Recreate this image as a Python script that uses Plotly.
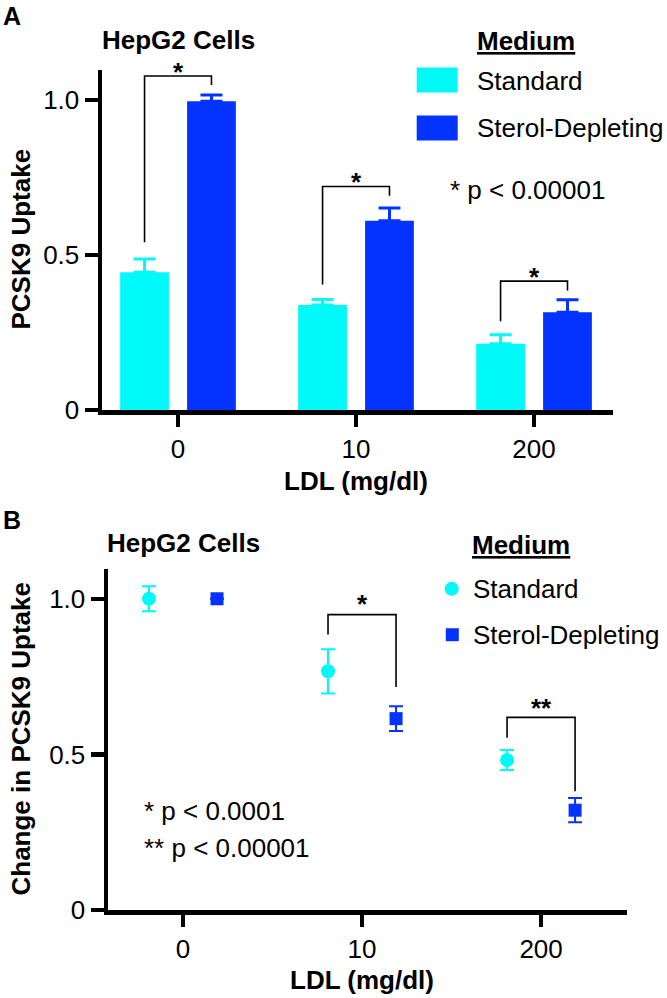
import plotly.graph_objects as go

W, H = 667, 998          # reference picture size
FIG_H = 1011             # rendered figure height (viewport compensation)
FONT = "Liberation Sans, Arial, Helvetica, sans-serif"
CYAN = "#00FAFA"
BLUE = "#0433FF"

# ---------------- data ----------------
ldl_labels = ["0", "10", "200"]

# Panel A: PCSK9 uptake (bars, mean + upper SEM)
uptake_standard = [0.445, 0.339, 0.214]
uptake_standard_err = [0.042, 0.018, 0.029]
uptake_sterol = [0.996, 0.611, 0.316]
uptake_sterol_err = [0.020, 0.041, 0.040]

# Panel B: change in PCSK9 uptake (points, mean +/- SEM)
change_standard = [1.00, 0.767, 0.482]
change_standard_err = [0.040, 0.071, 0.032]
change_sterol = [1.00, 0.615, 0.321]
change_sterol_err = [0.0, 0.040, 0.039]

# significance labels per LDL group
sig_A = ["*", "*", "*"]
sig_B = ["", "*", "**"]

idx = list(range(len(ldl_labels)))

# ---------------- helpers ----------------
def px(x):
    return x / W

def py(y):
    return 1 - y / H

OFF = 0.188      # half distance between paired bars (axis units)
BW = 0.274       # bar width (axis units)

fig = go.Figure()

# Panel A bars
fig.add_trace(go.Bar(
    x=idx, y=uptake_standard, width=BW, offset=-OFF - BW / 2,
    marker=dict(color=CYAN, line=dict(width=0)),
    error_y=dict(type="data", array=uptake_standard_err,
                 arrayminus=[0] * len(idx), symmetric=False,
                 color=CYAN, thickness=3, width=11),
    xaxis="x", yaxis="y", showlegend=False, name="Standard"))
fig.add_trace(go.Bar(
    x=idx, y=uptake_sterol, width=BW, offset=OFF - BW / 2,
    marker=dict(color=BLUE, line=dict(width=0)),
    error_y=dict(type="data", array=uptake_sterol_err,
                 arrayminus=[0] * len(idx), symmetric=False,
                 color=BLUE, thickness=3, width=11),
    xaxis="x", yaxis="y", showlegend=False, name="Sterol-Depleting"))

# Panel B points
OFFB = 0.19
fig.add_trace(go.Scatter(
    x=[i - OFFB for i in idx], y=change_standard, mode="markers",
    marker=dict(symbol="circle", size=14, color=CYAN),
    error_y=dict(type="data", array=change_standard_err, color=CYAN,
                 thickness=2, width=7),
    xaxis="x2", yaxis="y2", showlegend=False, cliponaxis=False,
    name="Standard"))
fig.add_trace(go.Scatter(
    x=[i + OFFB for i in idx], y=change_sterol, mode="markers",
    marker=dict(symbol="square", size=13, color=BLUE),
    error_y=dict(type="data", array=change_sterol_err, color=BLUE,
                 thickness=2, width=7),
    xaxis="x2", yaxis="y2", showlegend=False, cliponaxis=False,
    name="Sterol-Depleting"))

shapes = []
annotations = []

# brackets panel A: (top, left leg bottom, right leg bottom)
brA = [(1.077, 0.541, 1.048), (0.721, 0.405, 0.691), (0.416, 0.287, 0.386)]
for i, (top, lb, rb) in enumerate(brA):
    x0, x1 = i - OFF, i + OFF
    shapes.append(dict(type="path", xref="x", yref="y",
                       path=f"M {x0},{lb} L {x0},{top} L {x1},{top} L {x1},{rb}",
                       line=dict(color="black", width=1.6)))
    annotations.append(dict(x=i, y=top, xref="x", yref="y", text=f"<b>{sig_A[i]}</b>",
                            showarrow=False, xanchor="center", yanchor="middle",
                            yshift=4.5, font=dict(size=26, family=FONT, color="black")))

# brackets panel B
brB = [None, (0.949, 0.885, 0.717), (0.619, 0.554, 0.382)]
ysB = [0, 10.5, 9]
for i, br in enumerate(brB):
    if br is None:
        continue
    top, lb, rb = br
    x0, x1 = i - OFFB, i + OFFB
    shapes.append(dict(type="path", xref="x2", yref="y2",
                       path=f"M {x0},{lb} L {x0},{top} L {x1},{top} L {x1},{rb}",
                       line=dict(color="black", width=1.6)))
    annotations.append(dict(x=i, y=top, xref="x2", yref="y2", text=f"<b>{sig_B[i]}</b>",
                            showarrow=False, xanchor="center", yanchor="middle",
                            yshift=ysB[i], font=dict(size=26, family=FONT, color="black")))


def txt(text, x, y, size=26, xanchor="left", angle=0, underline=False):
    f = dict(size=size, family=FONT, color="black")
    if underline:
        f["lineposition"] = "under"
    annotations.append(dict(text=text, x=px(x), y=py(y), xref="paper", yref="paper",
                            showarrow=False, xanchor=xanchor, yanchor="middle",
                            textangle=angle, font=f, borderpad=0))


# Panel A texts
txt("<b>A</b>", 2, 16, size=25)
txt("<b>HepG2 Cells</b>", 101, 40.5)
txt("<b>Medium</b>", 475.5, 41, underline=True)
txt("Standard", 475.5, 81)
txt("Sterol-Depleting", 475.5, 128)
txt("* p < 0.00001", 449, 190)
txt("<b>PCSK9 Uptake</b>", 21, 240, xanchor="center", angle=-90)
txt("<b>LDL (mg/dl)</b>", 356, 481.5, xanchor="center")

shapes.append(dict(type="rect", xref="paper", yref="paper",
                   x0=px(416.7), x1=px(457.7), y0=py(92.7), y1=py(67.7),
                   fillcolor=CYAN, line=dict(width=0)))
shapes.append(dict(type="rect", xref="paper", yref="paper",
                   x0=px(416.7), x1=px(457.7), y0=py(140.7), y1=py(115.7),
                   fillcolor=BLUE, line=dict(width=0)))

# Panel B texts
txt("<b>B</b>", 2, 521.5, size=25)
txt("<b>HepG2 Cells</b>", 105.5, 544)
txt("<b>Medium</b>", 470.5, 546, underline=True)
txt("Standard", 471.5, 590)
txt("Sterol-Depleting", 471.5, 636)
txt("* p < 0.0001", 143, 813)
txt("** p < 0.00001", 143, 850)
txt("<b>Change in PCSK9 Uptake</b>", 21, 740, xanchor="center", angle=-90)
txt("<b>LDL (mg/dl)</b>", 362, 981.5, xanchor="center")

shapes.append(dict(type="circle", xref="paper", yref="paper",
                   x0=px(451.7 - 7), x1=px(451.7 + 7), y0=py(590 + 7), y1=py(590 - 7),
                   fillcolor=CYAN, line=dict(width=0)))
shapes.append(dict(type="rect", xref="paper", yref="paper",
                   x0=px(452.3 - 6.5), x1=px(452.3 + 6.5), y0=py(636 + 6.5), y1=py(636 - 6.5),
                   fillcolor=BLUE, line=dict(width=0)))

axis_common = dict(showline=True, linecolor="black", linewidth=4.5,
                   ticks="outside", tickcolor="black", showgrid=False,
                   zeroline=False, tickfont=dict(size=26, family=FONT, color="black"))

fig.update_layout(
    width=W, height=FIG_H,
    margin=dict(l=0, r=0, t=0, b=0),
    paper_bgcolor="white", plot_bgcolor="white",
    barmode="overlay",
    font=dict(family=FONT, color="black"),
    xaxis=dict(domain=[px(102), px(612.7)], range=[-0.427, 2.442],
               tickvals=idx, ticktext=ldl_labels, ticklen=12, tickwidth=4,
               anchor="y", **axis_common),
    yaxis=dict(domain=[py(411), py(70)], range=[0, 1.097],
               tickvals=[0, 0.5, 1.0], ticktext=["0", "0.5", "1.0"],
               ticklen=13, tickwidth=4.5, anchor="x", **axis_common),
    xaxis2=dict(domain=[px(108), px(627)], range=[-0.419, 2.480],
                tickvals=idx, ticktext=ldl_labels, ticklen=12, tickwidth=4,
                anchor="y2", **axis_common),
    yaxis2=dict(domain=[py(912), py(570)], range=[0, 1.096],
                tickvals=[0, 0.5, 1.0], ticktext=["0", "0.5", "1.0"],
                ticklen=13, tickwidth=4.5, anchor="x2", **axis_common),
    shapes=shapes,
    annotations=annotations,
)

css_fix = (
    "var s=document.createElement('style');"
    "s.textContent='html,body{margin:0;padding:0;}';"
    "document.head.appendChild(s);"
)

fig.write_html("out.html", config={"displayModeBar": False, "staticPlot": True},
               post_script=css_fix)
